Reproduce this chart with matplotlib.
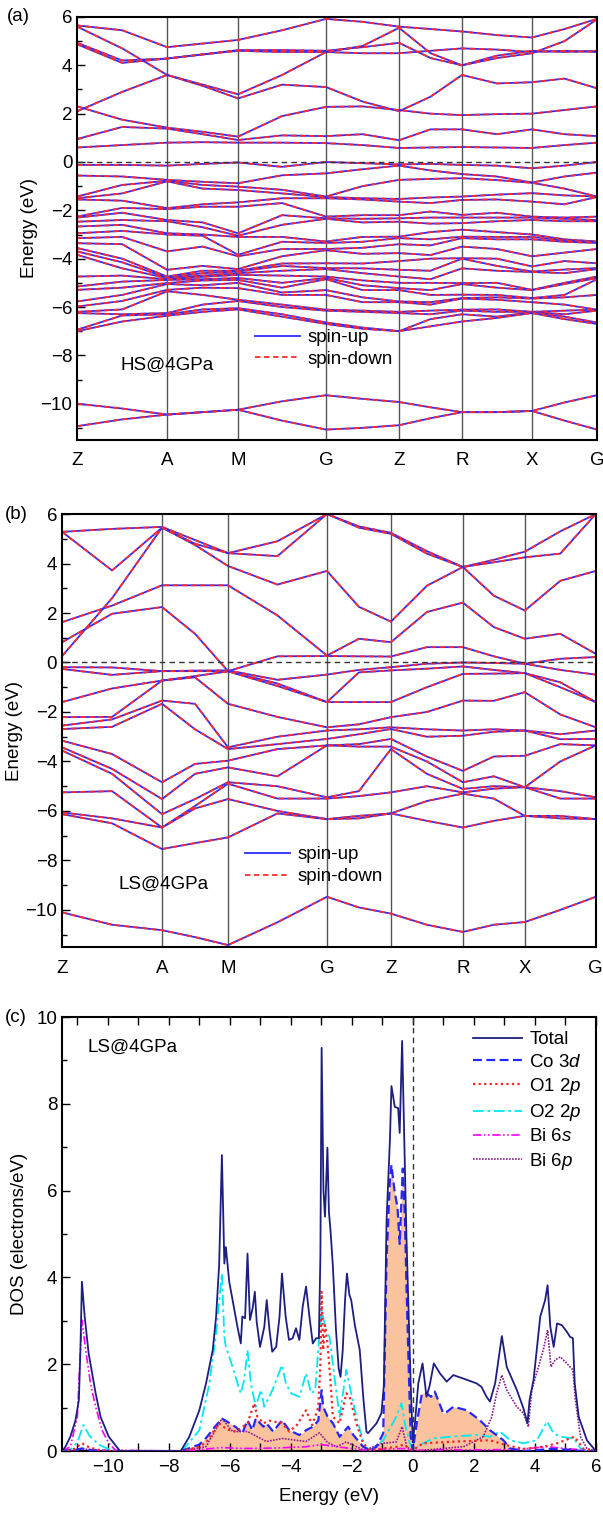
import numpy as np
import matplotlib.pyplot as plt

plt.rcParams['font.family'] = ['Liberation Sans', 'DejaVu Sans']
plt.rcParams['mathtext.fontset'] = 'custom'
plt.rcParams['mathtext.rm'] = 'Liberation Sans'
plt.rcParams['mathtext.it'] = 'Liberation Sans:italic'
plt.rcParams['font.size'] = 13.5

# ---------------- k-path ----------------
klabels = ['Z', 'A', 'M', 'G', 'Z', 'R', 'X', 'G']
kpath_a = [0, 90, 161, 249, 322, 385, 455, 520]
kpath_b = [0, 100, 166, 265, 329, 401, 463, 534]

# band energies at Z, Z-A, A, A-M, M, M-G, G, G-Z, Z, Z-R, R, R-X, X, X-G, G

# ---- (a) HS@4GPa, conduction bands ----
a_c1 = [5.65, 5.45, 4.75, 4.9, 5.05, 5.45, 5.92, 5.8, 5.6, 5.5, 5.4, 5.25, 5.15, 5.5, 5.92]
a_c2 = [5.6, 4.7, 3.6, 3.15, 2.63, 3.2, 3.1, 2.5, 2.1, 2.7, 3.6, 3.25, 3.3, 3.45, 3.05]
a_c3 = [4.93, 4.2, 4.28, 4.45, 4.63, 4.63, 4.6, 4.75, 4.93, 4.3, 4.0, 4.4, 4.6, 4.55, 4.6]
a_c4 = [4.87, 4.1, 4.28, 4.45, 4.6, 4.55, 4.55, 4.5, 4.5, 4.6, 4.7, 4.65, 4.55, 4.6, 4.55]
a_c5 = [2.1, 2.9, 3.6, 3.2, 2.8, 3.6, 4.55, 4.8, 5.55, 4.5, 4.0, 4.3, 4.5, 5.0, 5.9]
a_c6 = [2.3, 1.75, 1.42, 1.25, 1.05, 1.9, 2.28, 2.3, 2.15, 2.0, 1.94, 1.98, 2.0, 2.15, 2.3]
a_c7 = [0.95, 1.45, 1.38, 1.15, 0.91, 1.1, 1.07, 1.15, 0.9, 1.35, 1.35, 1.15, 1.35, 1.15, 1.07]
a_c8 = [0.6, 0.7, 0.8, 0.82, 0.8, 0.8, 0.78, 0.7, 0.58, 0.6, 0.62, 0.6, 0.58, 0.7, 0.8]

# ---- (a) valence bands, sorted energies at each k point ----
a_v_Z1 = [-0.12, -0.56, -1.43, -1.5, -1.55, -2.26, -2.3, -2.47, -2.67, -2.95, -3.15, -3.36,
          -3.56, -3.7, -3.84, -4.74, -5.15, -5.29, -5.77, -5.98, -6.2, -6.25, -6.94, -7.0]
a_v_ZA = [-0.12, -0.6, -0.95, -1.3, -1.6, -1.9, -2.1, -2.4, -2.6, -2.85, -3.1, -3.4,
          -4.0, -4.15, -4.4, -4.7, -4.95, -5.2, -5.5, -5.75, -6.1, -6.3, -6.35, -6.6]
a_v_A = [-0.15, -0.74, -0.78, -0.8, -1.91, -1.95, -2.4, -2.45, -2.95, -3.0, -3.7, -4.46,
         -4.74, -4.78, -4.8, -4.85, -4.88, -5.01, -5.05, -5.29, -5.35, -6.25, -6.3, -6.36]
a_v_AM = [-0.08, -0.82, -0.95, -1.1, -1.75, -1.85, -2.5, -2.7, -3.0, -3.05, -3.5, -4.3,
          -4.5, -4.6, -4.7, -4.75, -4.85, -4.9, -5.1, -5.2, -5.5, -5.9, -6.1, -6.2]
a_v_M = [-0.02, -0.88, -1.02, -1.16, -1.67, -1.85, -2.95, -3.05, -3.1, -3.84, -3.9, -4.43,
         -4.5, -4.53, -4.6, -4.67, -4.8, -4.88, -5.0, -5.22, -5.7, -5.75, -6.05, -6.1]
a_v_MG = [-0.2, -0.55, -1.15, -1.3, -1.5, -1.7, -2.2, -2.6, -3.1, -3.3, -3.6, -3.9,
          -4.2, -4.3, -4.5, -4.7, -5.0, -5.2, -5.4, -5.5, -5.9, -6.0, -6.3, -6.4]
a_v_G1 = [0.0, -0.47, -1.43, -1.45, -1.5, -2.26, -2.33, -2.35, -3.29, -3.35, -3.6, -3.65,
          -4.19, -4.39, -4.43, -4.74, -4.8, -4.85, -5.3, -5.5, -6.11, -6.15, -6.64, -6.7]
a_v_GZ = [-0.05, -0.3, -1.0, -1.5, -1.55, -2.2, -2.35, -2.5, -3.1, -3.3, -3.55, -3.8,
          -4.2, -4.4, -4.6, -4.9, -5.1, -5.3, -5.6, -5.8, -6.15, -6.2, -6.85, -6.9]
a_v_Z2 = [-0.1, -0.15, -0.74, -1.53, -1.64, -2.2, -2.33, -2.47, -3.09, -3.15, -3.4, -3.77,
          -4.1, -4.46, -4.74, -5.0, -5.22, -5.3, -5.77, -5.8, -6.2, -6.25, -7.0, -7.0]
a_v_ZR = [-0.08, -0.35, -0.7, -1.47, -1.7, -2.05, -2.3, -2.55, -2.9, -3.2, -3.45, -3.85,
          -4.0, -4.5, -4.85, -5.0, -5.3, -5.5, -5.8, -5.9, -6.15, -6.3, -6.5, -6.8]
a_v_R = [-0.12, -0.5, -0.67, -1.43, -1.57, -2.19, -2.3, -2.53, -2.8, -3.09, -3.15, -3.5,
         -3.98, -4.0, -4.4, -5.01, -5.05, -5.49, -5.63, -5.65, -6.11, -6.15, -6.3, -6.6]
a_v_RX = [-0.15, -0.6, -0.75, -1.35, -1.55, -2.1, -2.3, -2.45, -2.9, -3.1, -3.2, -3.6,
          -4.0, -4.3, -4.5, -5.0, -5.2, -5.5, -5.6, -5.7, -6.1, -6.2, -6.4, -6.45]
a_v_X = [-0.26, -0.85, -0.86, -1.29, -1.64, -2.26, -2.3, -2.4, -3.0, -3.1, -3.2, -3.9,
         -4.32, -4.53, -4.55, -5.29, -5.3, -5.63, -5.65, -5.8, -6.2, -6.2, -6.22, -6.25]
a_v_XG = [-0.15, -0.6, -1.1, -1.38, -1.75, -2.3, -2.35, -2.45, -3.2, -3.25, -3.3, -3.75,
          -4.1, -4.45, -4.6, -5.0, -5.05, -5.5, -5.6, -5.9, -6.15, -6.3, -6.4, -6.5]
a_v_G2 = [0.0, -0.44, -1.43, -1.43, -1.45, -2.26, -2.4, -2.45, -3.29, -3.3, -3.35, -3.6,
          -4.19, -4.39, -4.43, -4.74, -4.8, -4.85, -5.5, -6.11, -6.11, -6.15, -6.64, -6.7]

# ---- (a) deep bands ----
a_d1 = [-10.0, -10.2, -10.45, -10.35, -10.25, -9.9, -9.65, -9.8, -9.93, -10.15, -10.35, -10.35, -10.3, -9.95, -9.65]
a_d2 = [-10.93, -10.65, -10.45, -10.35, -10.25, -10.7, -11.07, -11.0, -10.89, -10.6, -10.35, -10.35, -10.3, -10.7, -11.07]

# ---- (b) LS@4GPa, conduction bands ----
b_c1 = [5.28, 5.4, 5.48, 4.95, 4.42, 4.9, 6.0, 5.5, 5.24, 4.5, 3.86, 4.15, 4.48, 5.3, 6.0]
b_c2 = [5.28, 3.72, 5.45, 4.75, 3.9, 3.15, 3.7, 2.25, 1.65, 3.1, 3.86, 2.7, 2.1, 3.3, 3.7]
b_c3 = [0.26, 2.6, 5.45, 4.8, 4.42, 4.3, 6.0, 5.45, 5.2, 4.4, 3.86, 4.05, 4.25, 4.4, 6.0]
b_c4 = [0.82, 1.97, 2.24, 1.16, -0.35, 0.25, 0.26, 0.25, 0.24, 0.62, 0.62, 0.25, -0.05, 0.15, 0.22]
b_c5 = [1.63, 2.3, 3.12, 3.12, 3.12, 1.9, 0.28, 0.96, 0.82, 2.04, 2.42, 1.43, 0.96, 1.16, 0.35]

# ---- (b) valence bands, sorted energies at each k point ----
b_v_Z1 = [-0.19, -0.26, -1.6, -2.21, -2.55, -2.69, -3.16, -3.43, -3.56, -5.25, -6.06, -6.13]
b_v_ZA = [-0.2, -0.5, -1.05, -2.2, -2.3, -2.6, -3.7, -4.3, -4.5, -5.2, -6.3, -6.5]
b_v_A = [-0.35, -0.35, -0.73, -0.73, -1.54, -1.67, -4.84, -5.52, -6.13, -6.67, -6.67, -7.54]
b_v_AM = [-0.33, -0.35, -0.55, -0.6, -1.67, -2.7, -4.1, -4.5, -5.52, -5.8, -5.9, -7.3]
b_v_M = [-0.32, -0.35, -0.36, -1.67, -3.43, -3.5, -3.97, -4.24, -4.84, -4.9, -5.52, -7.07]
b_v_MG = [-0.7, -0.85, -0.95, -2.2, -3.0, -3.3, -3.5, -4.6, -5.0, -5.5, -6.0, -6.1]
b_v_G1 = [-0.49, -1.6, -1.6, -2.62, -2.75, -3.09, -3.35, -3.35, -5.45, -5.5, -6.33, -6.33]
b_v_GZ = [-0.3, -0.4, -1.6, -2.5, -2.7, -2.9, -3.3, -3.4, -5.2, -5.4, -6.2, -6.3]
b_v_Z2 = [-0.19, -0.32, -1.6, -2.21, -2.62, -2.69, -3.09, -3.4, -3.5, -5.25, -6.1, -6.1]
b_v_ZR = [-0.05, -0.25, -1.0, -2.0, -2.7, -3.0, -3.8, -4.0, -4.5, -5.0, -5.6, -6.4]
b_v_R = [0.0, -0.16, -0.46, -1.54, -2.75, -2.96, -4.38, -4.84, -5.11, -5.25, -5.3, -6.67]
b_v_RX = [-0.02, -0.3, -0.45, -1.55, -2.7, -2.8, -3.8, -4.6, -5.0, -5.1, -5.5, -6.4]
b_v_X = [-0.05, -0.43, -0.43, -1.2, -2.75, -2.75, -3.77, -5.04, -5.04, -5.04, -6.2, -6.2]
b_v_XG = [-0.3, -0.8, -1.0, -2.1, -2.9, -3.1, -3.3, -4.0, -5.2, -5.5, -6.2, -6.3]
b_v_G2 = [-0.49, -1.6, -1.6, -2.62, -2.75, -3.09, -3.35, -3.35, -5.45, -5.5, -6.33, -6.33]

b_d1 = [-10.1, -10.6, -10.82, -11.1, -11.42, -10.5, -9.47, -9.9, -10.15, -10.6, -10.89, -10.6, -10.49, -10.0, -9.47]

# ---------------- (c) DOS, LS@4GPa ----------------
tot_e = [-11.5, -11.39, -11.23, -11.06, -10.95, -10.9, -10.85, -10.76, -10.63, -10.4, -10.24, -9.97, -9.6,
         -7.61, -7.33, -7.0, -6.78, -6.56, -6.45, -6.35, -6.26, -6.18, -6.13, -6.02, -5.91, -5.75, -5.64,
         -5.59, -5.5, -5.42, -5.34, -5.25, -5.18, -5.12, -5.01, -4.87, -4.79, -4.7, -4.61, -4.48, -4.37,
         -4.29, -4.17, -4.06, -3.94, -3.83, -3.72, -3.61, -3.5, -3.39, -3.28, -3.17, -3.08, -3.03, -2.99,
         -2.93, -2.88, -2.8, -2.75, -2.7, -2.62, -2.52, -2.43, -2.37, -2.3, -2.22, -2.16, -2.08, -2.02,
         -1.9, -1.74, -1.62, -1.52, -1.47, -1.3, -1.19, -1.03, -0.95, -0.86, -0.75, -0.7, -0.59, -0.48,
         -0.43, -0.35, -0.26, -0.21, -0.15, -0.07, 0.0, 0.07, 0.18, 0.32, 0.45, 0.55, 0.69, 0.89, 1.11,
         1.33, 1.66, 2.09, 2.25, 2.42, 2.53, 2.7, 2.92, 3.08, 3.41, 3.63, 3.76, 3.83, 3.96, 4.18, 4.34,
         4.42, 4.51, 4.62, 4.73, 4.89, 5.05, 5.16, 5.25, 5.31, 5.44, 5.71, 6.0]
tot_d = [0.0, 0.1, 0.33, 0.71, 1.18, 2.33, 3.9, 3.1, 2.25, 1.33, 0.79, 0.33, 0.0,
         0.0, 0.33, 0.94, 1.56, 2.33, 3.1, 4.3, 6.82, 4.32, 4.7, 3.9, 3.48, 2.86, 2.48,
         3.1, 3.06, 4.55, 3.02, 3.3, 3.67, 2.98, 2.4, 2.86, 3.48, 2.79, 2.29, 2.4, 3.1,
         4.09, 3.1, 2.56, 2.6, 2.83, 2.56, 3.33, 3.79, 3.1, 2.48, 2.6, 2.6, 4.5, 9.29,
         6.0, 5.4, 6.99, 5.5, 5.1, 4.25, 2.8, 1.9, 1.71, 2.3, 3.5, 4.09, 3.6, 3.48,
         2.9, 2.33, 1.2, 0.45, 0.41, 0.55, 0.64, 0.87, 1.5, 5.32, 7.17, 8.41, 7.93, 7.9,
         7.33, 9.45, 6.55, 5.0, 3.5, 1.56, 0.2, 0.64, 1.56, 2.02, 1.25, 1.5, 2.02, 1.79, 1.6,
         1.75, 1.67, 1.56, 1.48, 1.25, 1.14, 1.56, 2.65, 1.94, 1.41, 0.98, 0.64, 1.18, 1.64, 3.1, 3.48,
         3.82, 2.86, 2.4, 2.94, 2.9, 2.75, 2.63, 2.6, 1.56, 0.79, 0.25, 0.0]

co_e = [-11.5, -11.1, -10.85, -10.6, -10.2, -9.8, -7.6, -7.0, -6.78, -6.5, -6.26, -6.0, -5.8, -5.59,
        -5.42, -5.26, -5.15, -4.9, -4.8, -4.58, -4.29, -4.05, -3.72, -3.5, -3.28, -3.1, -2.99, -2.94,
        -2.8, -2.62, -2.4, -2.12, -1.95, -1.63, -1.4, -1.19, -0.97, -0.86, -0.75, -0.7, -0.6, -0.5,
        -0.43, -0.33, -0.26, -0.21, -0.15, -0.07, 0.0, 0.13, 0.3, 0.45, 0.6, 0.72, 1.0, 1.11, 1.33,
        1.77, 2.2, 2.53, 2.97, 3.19, 3.63, 4.2, 4.5, 5.2, 5.5, 6.0]
co_d = [0, 0.02, 0.06, 0.03, 0.01, 0, 0, 0.15, 0.3, 0.55, 0.75, 0.64, 0.55, 0.41,
        0.71, 0.48, 0.75, 0.56, 0.64, 0.45, 0.71, 0.48, 0.37, 0.48, 0.56, 0.7, 1.4, 1.02,
        0.8, 0.64, 0.33, 0.56, 0.37, 0.1, 0.02, 0.1, 0.41, 4.4, 6.24, 6.59, 6.0, 5.6,
        4.77, 6.51, 5.4, 3.86, 2.33, 0.33, 0.02, 0.64, 1.33, 1.33, 1.25, 1.37, 0.87, 0.9, 1.02,
        0.94, 0.71, 0.48, 0.25, 0.06, 0.0, 0.03, 0.05, 0.03, 0.0, 0.0]

o1_e = [-11.5, -11.1, -10.85, -10.6, -10.3, -9.9, -7.6, -7.0, -6.78, -6.35, -6.1, -5.8, -5.42, -5.2,
        -5.1, -4.9, -4.7, -4.29, -4.05, -3.8, -3.5, -3.3, -3.1, -3.03, -2.99, -2.94, -2.88, -2.8,
        -2.71, -2.62, -2.4, -2.18, -2.07, -1.85, -1.63, -1.4, -0.97, -0.5, -0.3, -0.1, 0.0, 0.34,
        1.44, 2.53, 3.0, 3.6, 4.3, 4.73, 5.3, 5.6, 6.0]
o1_d = [0, 0.05, 0.18, 0.08, 0.03, 0, 0, 0.1, 0.2, 0.64, 0.5, 0.45, 0.64, 1.1,
        0.8, 0.64, 0.7, 0.64, 0.45, 0.6, 0.94, 0.6, 1.0, 2.0, 3.67, 2.33, 2.9, 2.5,
        1.71, 0.79, 0.64, 1.33, 1.25, 0.64, 0.18, 0.02, 0.06, 0.1, 0.15, 0.05, 0.02, 0.18,
        0.22, 0.25, 0.15, 0.05, 0.1, 0.18, 0.33, 0.05, 0.0]

o2_e = [-11.5, -11.2, -11.0, -10.8, -10.6, -10.3, -10.0, -9.7, -7.6, -7.45, -7.0, -6.67, -6.45,
        -6.26, -6.18, -6.13, -5.91, -5.75, -5.64, -5.53, -5.42, -5.31, -5.15, -4.98, -4.87, -4.76,
        -4.6, -4.29, -4.16, -3.99, -3.72, -3.5, -3.33, -3.2, -3.06, -2.99, -2.85, -2.73, -2.57, -2.4,
        -2.18, -2.02, -1.85, -1.58, -1.4, -0.97, -0.54, -0.37, -0.26, -0.1, 0.0, 0.34, 0.67, 1.22,
        2.09, 2.53, 2.86, 3.19, 3.63, 4.07, 4.4, 4.62, 4.84, 5.28, 5.5, 5.71, 6.0]
o2_d = [0, 0.05, 0.2, 0.6, 0.35, 0.15, 0.05, 0, 0, 0.1, 0.48, 1.56, 2.71,
        4.09, 2.63, 2.4, 1.94, 1.56, 1.33, 1.64, 2.33, 1.56, 1.02, 1.41, 1.02, 1.18,
        1.41, 1.98, 1.56, 1.33, 1.25, 1.79, 1.33, 1.4, 2.71, 3.25, 2.79, 2.63, 1.71, 0.79,
        1.87, 1.33, 0.79, 0.1, 0.02, 0.25, 0.79, 1.1, 0.64, 0.18, 0.02, 0.18, 0.29, 0.33,
        0.37, 0.33, 0.45, 0.25, 0.18, 0.25, 0.68, 0.41, 0.33, 0.29, 0.06, 0.0, 0.0]

bs_e = [-11.5, -11.23, -11.0, -10.9, -10.85, -10.74, -10.57, -10.4, -10.19, -9.97, -9.75, -7.6, -7.0,
        -6.3, -5.5, -4.5, -3.5, -3.0, -2.5, -1.6, -1.0, -0.3, 0.0, 1.0, 2.5, 3.5, 4.4, 5.0, 5.5, 6.0]
bs_d = [0, 0.1, 0.79, 2.33, 3.02, 2.4, 1.56, 1.02, 0.48, 0.18, 0.02, 0, 0.03,
        0.08, 0.06, 0.07, 0.1, 0.15, 0.1, 0.02, 0.04, 0.06, 0.01, 0.03, 0.03, 0.04, 0.1, 0.06, 0.03, 0.0]

bp_e = [-11.5, -11.0, -10.85, -10.6, -10.2, -9.8, -7.6, -6.78, -6.26, -5.91, -5.42, -4.8, -4.29, -3.5,
        -3.06, -2.8, -2.5, -2.18, -1.6, -0.97, -0.54, -0.35, -0.2, 0.0, 1.0, 1.66, 2.31, 2.59, 2.75,
        2.92, 3.08, 3.41, 3.63, 3.79, 3.9, 4.12, 4.28, 4.42, 4.53, 4.67, 4.84, 5.05, 5.25, 5.33, 5.5,
        5.71, 6.0]
bp_d = [0, 0.02, 0.06, 0.03, 0.01, 0, 0, 0.1, 0.75, 0.45, 0.45, 0.22, 0.29, 0.22,
        0.42, 0.2, 0.1, 0.21, 0.02, 0.18, 0.21, 0.56, 0.1, 0.0, 0.06, 0.1, 0.33, 0.79, 1.33,
        1.75, 1.41, 1.02, 0.87, 0.56, 1.41, 1.94, 2.33, 2.79, 1.94, 2.1, 2.17, 2.02, 1.87, 1.18, 0.33,
        0.06, 0.0]


def kgrid(kp):
    # high-symmetry points plus the midpoint of every segment
    pts = []
    for i in range(len(kp) - 1):
        pts += [kp[i], 0.5 * (kp[i] + kp[i + 1])]
    pts.append(kp[-1])
    return np.array(pts)


def band_panel(ax, kp, bands, note, leg_xy, note_xy):
    k = kgrid(kp)
    for i, e in enumerate(bands):
        ax.plot(k, e, color='#2b2bff', lw=1.3, label='spin-up' if i == 0 else None)
        ax.plot(k, e, color='#ff2b2b', lw=1.3, ls=(0, (3, 2)),
                label='spin-down' if i == 0 else None)
    for x in kp[1:-1]:
        ax.axvline(x, color='#555555', lw=1.0, zorder=0)
    ax.axhline(0, color='#333333', lw=1.0, ls=(0, (4, 3)), zorder=3)
    ax.set_xlim(kp[0], kp[-1])
    ax.set_ylim(-11.5, 6)
    ax.set_xticks(kp)
    ax.set_xticklabels(klabels)
    ax.set_yticks(np.arange(-10, 7, 2))
    ax.set_yticks(np.arange(-11, 6, 2), minor=True)
    ax.tick_params(axis='y', which='both', direction='in')
    ax.tick_params(axis='y', which='major', length=6, width=1)
    ax.tick_params(axis='y', which='minor', length=3.5, width=1)
    ax.tick_params(axis='x', length=0, pad=9)
    ax.set_ylabel('Energy (eV)', labelpad=2)
    for s in ax.spines.values():
        s.set_linewidth(1.5)
    ax.legend(loc='center left', bbox_to_anchor=leg_xy, frameon=False,
              handlelength=2.4, handletextpad=0.4, labelspacing=0.25, borderpad=0)
    ax.text(note_xy[0], note_xy[1], note, transform=ax.transAxes)


fig = plt.figure(figsize=(6.03, 15.15), dpi=100)

# (a)
ax1 = fig.add_axes([0.128, 0.7096, 0.862, 0.2792])
a_val = np.array([a_v_Z1, a_v_ZA, a_v_A, a_v_AM, a_v_M, a_v_MG, a_v_G1, a_v_GZ,
                  a_v_Z2, a_v_ZR, a_v_R, a_v_RX, a_v_X, a_v_XG, a_v_G2]).T
bands_a = [a_c1, a_c2, a_c3, a_c4, a_c5, a_c6, a_c7, a_c8] + list(a_val) + [a_d1, a_d2]
band_panel(ax1, kpath_a, bands_a, 'HS@4GPa', (0.325, 0.216), (0.083, 0.165))
fig.text(0.012, 0.9888, '(a)', va='center', ha='left')

# (b)
ax2 = fig.add_axes([0.103, 0.3749, 0.885, 0.2858])
b_val = np.array([b_v_Z1, b_v_ZA, b_v_A, b_v_AM, b_v_M, b_v_MG, b_v_G1, b_v_GZ,
                  b_v_Z2, b_v_ZR, b_v_R, b_v_RX, b_v_X, b_v_XG, b_v_G2]).T
bands_b = [b_c1, b_c2, b_c3, b_c4, b_c5] + list(b_val) + [b_d1]
band_panel(ax2, kpath_b, bands_b, 'LS@4GPa', (0.325, 0.188), (0.105, 0.135))
fig.text(0.008, 0.6607, '(b)', va='center', ha='left')

# (c)
ax3 = fig.add_axes([0.103, 0.0422, 0.885, 0.2865])
ax3.fill_between(co_e, co_d, color='#fbc39d', lw=0, zorder=1)
ax3.plot(tot_e, tot_d, color='#1e1e80', lw=1.3, label='Total', zorder=5)
ax3.plot(co_e, co_d, color='#2626ff', lw=1.6, ls=(0, (4, 2)), label='Co 3$d$', zorder=4)
ax3.plot(o1_e, o1_d, color='#ff2222', lw=1.6, ls=(0, (1, 1.5)), label='O1 2$p$', zorder=4)
ax3.plot(o2_e, o2_d, color='#00e8f0', lw=1.3, ls=(0, (6, 2, 1.5, 2)), label='O2 2$p$', zorder=3)
ax3.plot(bs_e, bs_d, color='#ff00ff', lw=1.2, ls=(0, (5, 1.5, 1, 1.5, 1, 1.5)), label='Bi 6$s$', zorder=3)
ax3.plot(bp_e, bp_d, color='#8e1a8e', lw=1.2, ls=(0, (1, 0.8)), label='Bi 6$p$', zorder=3)
ax3.axvline(0, color='#333333', lw=1.0, ls=(0, (4, 3)), zorder=6)
ax3.set_xlim(-11.5, 6)
ax3.set_ylim(0, 10)
ax3.set_xticks(np.arange(-10, 7, 2))
ax3.set_xticks(np.arange(-11, 7, 1), minor=True)
ax3.set_yticks(np.arange(0, 11, 2))
ax3.set_yticks(np.arange(1, 10, 2), minor=True)
ax3.tick_params(which='both', direction='in', top=True)
ax3.tick_params(which='major', length=6, width=1)
ax3.tick_params(which='minor', length=6, width=1)
ax3.tick_params(axis='y', which='minor', length=3.5)
ax3.tick_params(axis='x', pad=6)
for s in ax3.spines.values():
    s.set_linewidth(1.5)
ax3.set_xlabel('Energy (eV)', labelpad=8)
ax3.set_ylabel('DOS (electrons/eV)', labelpad=6)
ax3.text(0.048, 0.93, 'LS@4GPa', transform=ax3.transAxes, va='center')
ax3.legend(loc='upper right', frameon=False, handlelength=2.6, handletextpad=0.4,
           labelspacing=0.28, borderaxespad=0.35)
fig.text(0.008, 0.3287, '(c)', va='center', ha='left')

fig.savefig('out.png', dpi=100)
